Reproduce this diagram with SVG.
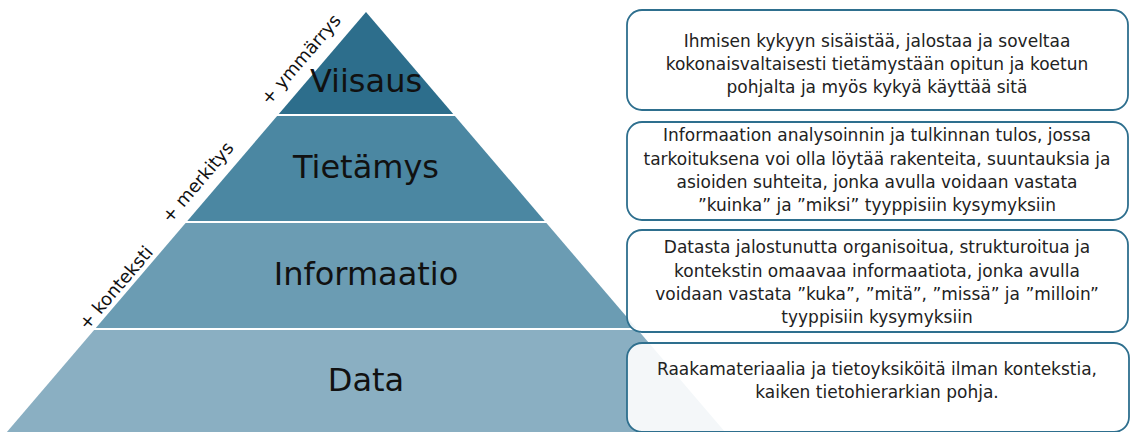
<svg xmlns="http://www.w3.org/2000/svg" width="1130" height="432" viewBox="0 0 1130 432">
<style>
.title{font-family:"DejaVu Sans",sans-serif;font-size:32px;fill:#111;text-anchor:middle}
.side{font-family:"DejaVu Sans",sans-serif;font-size:18px;fill:#111}
.box{fill:#fff;fill-opacity:0.9;stroke:#2e6f8e;stroke-width:1.8}
.desc{font-family:"DejaVu Sans",sans-serif;font-size:17px;fill:#222;text-anchor:middle}
</style>
<rect width="1130" height="432" fill="#fff"/>
<g id="layer-viisaus">
<polygon points="366,12 453.2,114 278.8,114" fill="#2d6e8c"/>
<text class="title" x="366" y="92">Viisaus</text>
</g>
<g id="layer-tietamys">
<polygon points="277.1,116 454.9,116 544.7,221 187.3,221" fill="#4b87a2"/>
<text class="title" x="366" y="178">Tietämys</text>
</g>
<g id="layer-informaatio">
<polygon points="185.6,223 546.4,223 636.2,328 95.8,328" fill="#6b9cb3"/>
<text class="title" x="366" y="285">Informaatio</text>
</g>
<g id="layer-data">
<polygon points="94.1,330 637.9,330 725.1,432 6.9,432" fill="#8aafc2"/>
<text class="title" x="366" y="391">Data</text>
</g>
<g id="side-labels">
<text class="side" transform="translate(269,106) rotate(-49.5)">+ ymmärrys</text>
<text class="side" transform="translate(170,224) rotate(-49.5)">+ merkitys</text>
<text class="side" transform="translate(87,331) rotate(-49.5)">+ konteksti</text>
</g>
<g id="connectors"></g>
<g id="box-viisaus">
<rect class="box" x="627" y="10" width="501" height="100" rx="15"/>
<text class="desc" x="877" y="47">Ihmisen kykyyn sisäistää, jalostaa ja soveltaa</text>
<text class="desc" x="877" y="70">kokonaisvaltaisesti tietämystään opitun ja koetun</text>
<text class="desc" x="877" y="93">pohjalta ja myös kykyä käyttää sitä</text>
</g>
<g id="box-tietamys">
<rect class="box" x="627" y="122" width="501" height="98" rx="15"/>
<text class="desc" x="877" y="141">Informaation analysoinnin ja tulkinnan tulos, jossa</text>
<text class="desc" x="877" y="164.5">tarkoituksena voi olla löytää rakenteita, suuntauksia ja</text>
<text class="desc" x="877" y="188">asioiden suhteita, jonka avulla voidaan vastata</text>
<text class="desc" x="877" y="211">”kuinka” ja ”miksi” tyyppisiin kysymyksiin</text>
</g>
<g id="box-informaatio">
<rect class="box" x="627" y="230" width="501" height="102" rx="15"/>
<text class="desc" x="877" y="253">Datasta jalostunutta organisoitua, strukturoitua ja</text>
<text class="desc" x="877" y="276.5">kontekstin omaavaa informaatiota, jonka avulla</text>
<text class="desc" x="877" y="300">voidaan vastata ”kuka”, ”mitä”, ”missä” ja ”milloin”</text>
<text class="desc" x="877" y="323">tyyppisiin kysymyksiin</text>
</g>
<g id="box-data">
<rect class="box" x="627" y="343" width="502" height="89" rx="15"/>
<text class="desc" x="877" y="375">Raakamateriaalia ja tietoyksiköitä ilman kontekstia,</text>
<text class="desc" x="877" y="398">kaiken tietohierarkian pohja.</text>
</g>
</svg>
